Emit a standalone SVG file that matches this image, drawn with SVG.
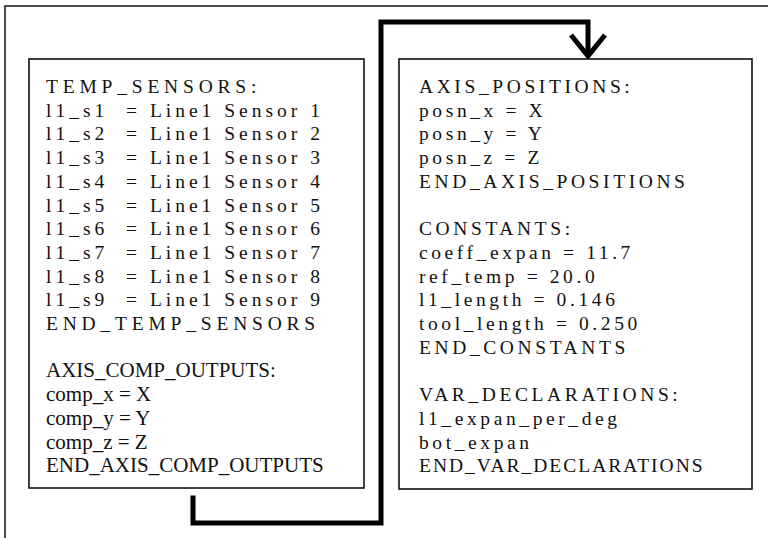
<svg xmlns="http://www.w3.org/2000/svg" width="768" height="538" viewBox="0 0 768 538">
  <defs>
    <style>
      .frame { fill: none; stroke: #111; stroke-width: 1.5; }
      .box { fill: #fff; stroke: #111; stroke-width: 1.6; }
      .wire { fill: none; stroke: #000; stroke-width: 5; stroke-linejoin: miter; stroke-linecap: square; }
      .head { fill: none; stroke: #000; stroke-width: 5; stroke-linejoin: miter; stroke-linecap: butt; }
      text { font-family: "Liberation Serif", "Times New Roman", serif; fill: #111; white-space: pre; }
      .sp { font-size: 19.5px; letter-spacing: 3.6px; }
      .sw { font-size: 19.5px; letter-spacing: 4.8px; }
      .sm { font-size: 19.5px; letter-spacing: 4px; }
      .pl { font-size: 21px; letter-spacing: 0; }
    </style>
  </defs>

  <rect width="768" height="538" fill="#fff"/>

  <!-- outer page frame (open to the right and bottom) -->
  <path class="frame" d="M5,545 V6 H775"/>

  <!-- flow connector from the left block round to the right block -->
  <g id="connectors">
    <path class="wire" d="M193,498 V523 H381 V22 H588 V54"/>
    <path class="head" d="M571,35 L588,56 L605,35"/>
  </g>

  <!-- left block: sensor and output declarations -->
  <g id="node-sensors">
    <rect class="box" x="29" y="59" width="335" height="429"/>
    <text class="sw" x="46" y="93">TEMP_SENSORS:</text>
    <text class="sm" x="46" y="116.7">l1_s1  = Line1 Sensor 1</text>
    <text class="sm" x="46" y="140.4">l1_s2  = Line1 Sensor 2</text>
    <text class="sm" x="46" y="164.1">l1_s3  = Line1 Sensor 3</text>
    <text class="sm" x="46" y="187.8">l1_s4  = Line1 Sensor 4</text>
    <text class="sm" x="46" y="211.5">l1_s5  = Line1 Sensor 5</text>
    <text class="sm" x="46" y="235.2">l1_s6  = Line1 Sensor 6</text>
    <text class="sm" x="46" y="258.9">l1_s7  = Line1 Sensor 7</text>
    <text class="sm" x="46" y="282.6">l1_s8  = Line1 Sensor 8</text>
    <text class="sm" x="46" y="306.3">l1_s9  = Line1 Sensor 9</text>
    <text class="sw" x="46" y="330">END_TEMP_SENSORS</text>
    <text class="pl" x="46" y="377.4">AXIS_COMP_OUTPUTS:</text>
    <text class="pl" x="46" y="401.1">comp_x = X</text>
    <text class="pl" x="46" y="424.8">comp_y = Y</text>
    <text class="pl" x="46" y="448.5">comp_z = Z</text>
    <text class="pl" x="46" y="472.2">END_AXIS_COMP_OUTPUTS</text>
  </g>

  <!-- right block: axis positions, constants and variables -->
  <g id="node-axis">
    <rect class="box" x="399" y="59" width="353" height="430"/>
    <text class="sp" x="419" y="93">AXIS_POSITIONS:</text>
    <text class="sp" x="419" y="116.7">posn_x = X</text>
    <text class="sp" x="419" y="140.4">posn_y = Y</text>
    <text class="sp" x="419" y="164.1">posn_z = Z</text>
    <text class="sp" x="419" y="187.8">END_AXIS_POSITIONS</text>
    <text class="sp" x="419" y="235.2">CONSTANTS:</text>
    <text class="sp" x="419" y="258.9">coeff_expan = 11.7</text>
    <text class="sp" x="419" y="282.6">ref_temp = 20.0</text>
    <text class="sp" x="419" y="306.3">l1_length = 0.146</text>
    <text class="sp" x="419" y="330">tool_length = 0.250</text>
    <text class="sp" x="419" y="353.7">END_CONSTANTS</text>
    <text class="sp" x="419" y="401.1">VAR_DECLARATIONS:</text>
    <text class="sp" x="419" y="424.8">l1_expan_per_deg</text>
    <text class="sp" x="419" y="448.5">bot_expan</text>
    <text class="sp" x="419" y="472.2" style="letter-spacing:2px">END_VAR_DECLARATIONS</text>
  </g>
</svg>
